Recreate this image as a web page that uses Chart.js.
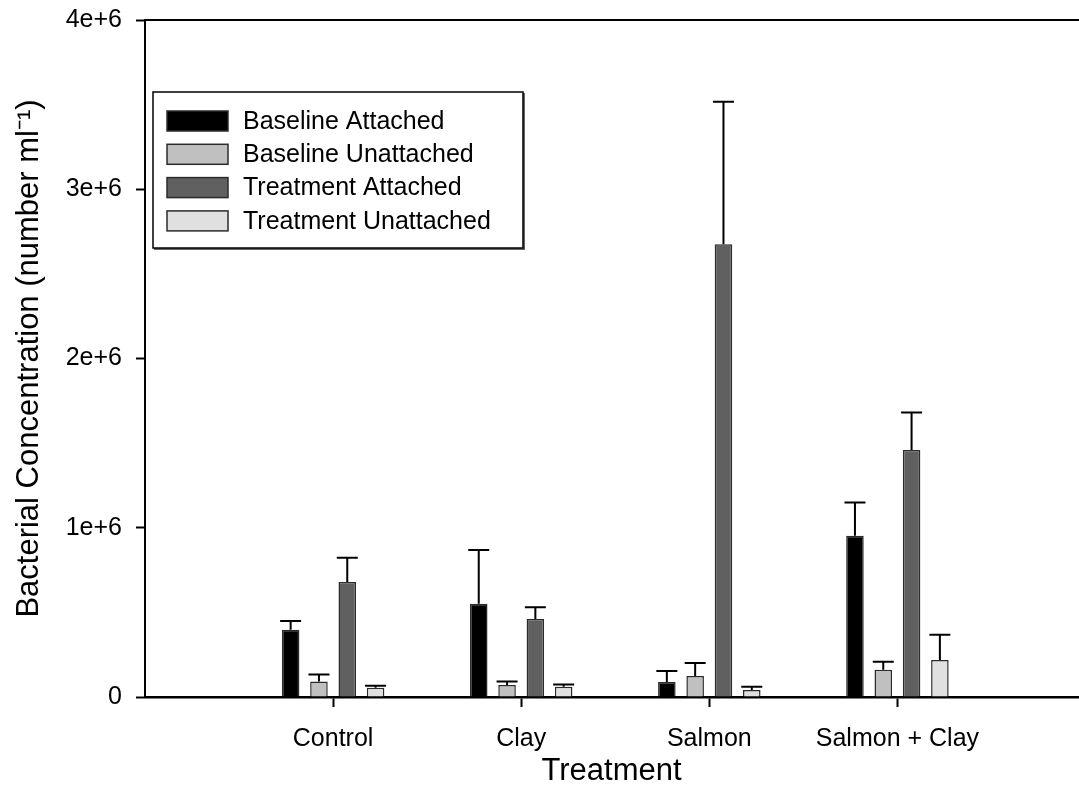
<!DOCTYPE html>
<html>
<head>
<meta charset="utf-8">
<title>Bacterial Concentration by Treatment</title>
<script src="https://cdn.jsdelivr.net/npm/chart.js@4/dist/chart.umd.min.js"></script>
<style>
  html, body { margin: 0; padding: 0; background: #fff; }
  #wrap { width: 1079px; height: 802px; }
</style>
</head>
<body>
<div id="wrap"><canvas id="c" width="1079" height="802"></canvas></div>
<script>
// Treatment groups along the x axis and their positions on the linear scale
const categories = ['Control', 'Clay', 'Salmon', 'Salmon + Clay'];
const categoryPositions = [1, 2, 3, 4];

// Mean bacterial concentration (number per ml) for each series
const baselineAttached     = [397000, 551000,   89000,  953000];
const baselineUnattached   = [ 92000,  71000,  124000,  161000];
const treatmentAttached    = [679000, 461000, 2675000, 1459000];
const treatmentUnattached  = [ 55000,  61000,   41000,  218000];

// Upper error (standard error) for each series
const baselineAttachedErr    = [ 52000, 317000,  65000, 196000];
const baselineUnattachedErr  = [ 41000,  21000,  77000,  47000];
const treatmentAttachedErr   = [144000,  70000, 842000, 222000];
const treatmentUnattachedErr = [ 12000,  13000,  20000, 150000];

// Y axis ticks
const yTickValues = [0, 1000000, 2000000, 3000000, 4000000];
const yTickLabels = ['0', '1e+6', '2e+6', '3e+6', '4e+6'];

const FONT = "'Liberation Sans', Arial, Helvetica, sans-serif";
const X_MAX = 4.96;

function points(values) {
  return values.map((v, i) => ({ x: categoryPositions[i], y: v }));
}

function series(label, values, errors, fill) {
  return {
    label: label,
    data: points(values),
    errorBars: errors,
    backgroundColor: fill,
    borderColor: '#2b2b2b',
    borderWidth: 1.5,
    borderSkipped: 'bottom'
  };
}

// Upward error bars with caps, positioned through the y scale
const errorBarPlugin = {
  id: 'errorBars',
  afterDatasetsDraw(chart, args, opts) {
    const ctx = chart.ctx;
    const yScale = chart.scales.y;
    ctx.save();
    ctx.strokeStyle = opts.color;
    ctx.lineWidth = opts.lineWidth;
    ctx.lineCap = 'butt';
    chart.data.datasets.forEach((ds, di) => {
      const meta = chart.getDatasetMeta(di);
      meta.data.forEach((bar, j) => {
        const val = ds.data[j].y;
        const err = ds.errorBars[j];
        const yTop = yScale.getPixelForValue(val + err);
        const yBase = yScale.getPixelForValue(val);
        ctx.beginPath();
        ctx.moveTo(bar.x, yBase);
        ctx.lineTo(bar.x, yTop);
        ctx.moveTo(bar.x - opts.capHalf, yTop);
        ctx.lineTo(bar.x + opts.capHalf, yTop);
        ctx.stroke();
      });
    });
    ctx.restore();
  }
};

// Framed legend drawn inside the plot area
const boxedLegendPlugin = {
  id: 'boxedLegend',
  afterDraw(chart, args, o) {
    const ctx = chart.ctx;
    ctx.save();
    ctx.fillStyle = '#fff';
    ctx.fillRect(o.x, o.y, o.width, o.height);
    // soft shadow on the right and bottom edges
    ctx.strokeStyle = '#666';
    ctx.lineWidth = 2;
    ctx.beginPath();
    ctx.moveTo(o.x + 1, o.y + o.height + 1);
    ctx.lineTo(o.x + o.width + 1, o.y + o.height + 1);
    ctx.lineTo(o.x + o.width + 1, o.y + 1);
    ctx.stroke();
    ctx.strokeStyle = '#000';
    ctx.lineWidth = 1.5;
    ctx.strokeRect(o.x, o.y, o.width, o.height);
    ctx.font = o.font;
    ctx.textBaseline = 'middle';
    ctx.textAlign = 'left';
    chart.data.datasets.forEach((ds, i) => {
      const cy = o.firstRowY + i * o.rowGap;
      ctx.fillStyle = ds.backgroundColor;
      ctx.fillRect(o.swatchX, cy - o.swatchH / 2, o.swatchW, o.swatchH);
      ctx.strokeStyle = ds.borderColor;
      ctx.lineWidth = 1.5;
      ctx.strokeRect(o.swatchX, cy - o.swatchH / 2, o.swatchW, o.swatchH);
      ctx.fillStyle = '#000';
      ctx.fillText(ds.label, o.textX, cy + 1);
    });
    ctx.restore();
  }
};

new Chart(document.getElementById('c'), {
  type: 'bar',
  data: {
    datasets: [
      series('Baseline Attached', baselineAttached, baselineAttachedErr, '#000000'),
      series('Baseline Unattached', baselineUnattached, baselineUnattachedErr, '#c0c0c0'),
      series('Treatment Attached', treatmentAttached, treatmentAttachedErr, '#606060'),
      series('Treatment Unattached', treatmentUnattached, treatmentUnattachedErr, '#e0e0e0')
    ]
  },
  plugins: [errorBarPlugin, boxedLegendPlugin],
  options: {
    responsive: false,
    devicePixelRatio: 1,
    animation: false,
    categoryPercentage: 0.602,
    barPercentage: 0.62,
    layout: { padding: { top: 20, left: 0, right: 1, bottom: 0 } },
    plugins: {
      legend: { display: false },
      tooltip: { enabled: false },
      errorBars: { color: '#000', lineWidth: 2, capHalf: 10.5 },
      boxedLegend: {
        x: 153, y: 92, width: 370, height: 156,
        swatchX: 167, swatchW: 61, swatchH: 20,
        textX: 243, firstRowY: 121, rowGap: 33.3,
        font: '25px ' + FONT
      }
    },
    scales: {
      x: {
        type: 'linear',
        position: 'bottom',
        min: 0,
        max: X_MAX,
        offset: false,
        afterBuildTicks(scale) {
          scale.ticks = categoryPositions.map(v => ({ value: v }));
        },
        afterFit(scale) {
          scale.height = 105;
          scale.paddingLeft = 0;
          scale.paddingRight = 0;
        },
        ticks: {
          autoSkip: false,
          maxRotation: 0,
          padding: 17,
          color: '#000',
          font: { family: FONT, size: 25 },
          callback: (v) => categories[categoryPositions.indexOf(v)]
        },
        grid: {
          display: true,
          drawOnChartArea: false,
          drawTicks: true,
          tickLength: 10,
          tickWidth: 2,
          tickColor: '#000',
          offset: false
        },
        border: { display: true, color: '#000', width: 2.5 },
        title: {
          display: true,
          text: 'Treatment',
          color: '#000',
          font: { family: FONT, size: 31 },
          padding: { top: 0, bottom: 12 }
        }
      },
      xTop: {
        type: 'linear',
        position: 'top',
        display: true,
        min: 0,
        max: X_MAX,
        afterFit(scale) {
          scale.height = 0;
          scale.paddingLeft = 0;
          scale.paddingRight = 0;
        },
        ticks: { display: false },
        grid: { display: true, drawOnChartArea: false, drawTicks: false },
        border: { display: true, color: '#000', width: 2 }
      },
      y: {
        type: 'linear',
        position: 'left',
        min: 0,
        max: 4000000,
        afterBuildTicks(scale) {
          scale.ticks = yTickValues.map(v => ({ value: v }));
        },
        afterFit(scale) {
          scale.width = 145;
          scale.paddingTop = 0;
          scale.paddingBottom = 0;
        },
        ticks: {
          padding: 14,
          color: '#000',
          font: { family: FONT, size: 25 },
          callback: (v, i) => yTickLabels[i]
        },
        grid: {
          display: true,
          drawOnChartArea: false,
          drawTicks: true,
          tickLength: 9,
          tickWidth: 2,
          tickColor: '#000'
        },
        border: { display: true, color: '#000', width: 2 },
        title: {
          display: true,
          text: 'Bacterial Concentration (number ml\u207B\u00B9)',
          color: '#000',
          font: { family: FONT, size: 31 },
          padding: { top: 11, bottom: 0 }
        }
      }
    }
  }
});
</script>
</body>
</html>
